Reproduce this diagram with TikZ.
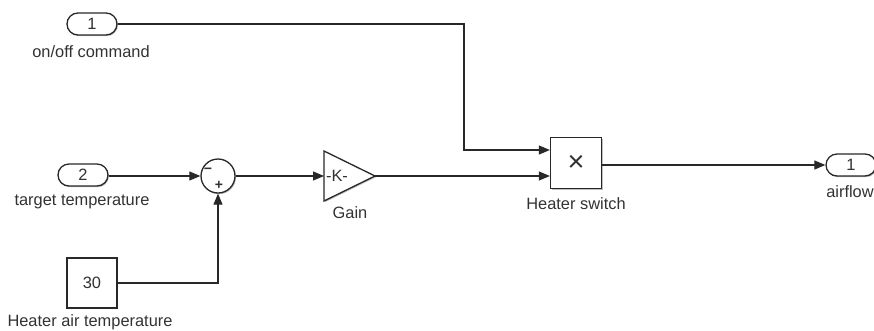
\documentclass[tikz,border=0pt]{standalone}
\usepackage{fontspec}
\setmainfont{Liberation Sans}
\usepackage{tikz}
\usetikzlibrary{shapes.misc, arrows.meta, shadows}
\definecolor{SLLine}{RGB}{40,40,40}
\definecolor{SLText}{RGB}{50,50,50}

\begin{document}
\begin{tikzpicture}[x=1pt, y=-1pt,
      port/.style={rounded rectangle, draw=SLLine, line width=1.3pt, fill=white,
                   minimum width=50pt, minimum height=22pt, inner sep=0pt,
                   font=\fontsize{16.4}{18}\selectfont, text=SLText,
                   drop shadow={shadow xshift=1pt, shadow yshift=-1.2pt,
                                opacity=0.25, fill=black}},
      blk/.style={rectangle, draw=SLLine, line width=1.3pt, fill=white,
                  inner sep=0pt, font=\fontsize{16.4}{18}\selectfont, text=SLText,
                  drop shadow={shadow xshift=1pt, shadow yshift=-1.2pt,
                               opacity=0.25, fill=black}},
      lbl/.style={font=\fontsize{16.4}{18}\selectfont, text=SLText, inner sep=0pt},
      arr/.style={-{Triangle[length=11pt, width=9pt]}, line width=1.1pt, SLLine},
      sgn/.style={font=\bfseries\fontsize{14}{14}\selectfont, text=SLText, inner sep=0pt}
    ]
    \useasboundingbox (0,0) rectangle (874,330);

    % Inports
    \node[port] (in1) at (92,24) {1};
    \node[lbl] at (91,52) {on/off command};
    \node[port] (in2) at (83,175) {2};
    \node[lbl] at (82,202) {target temperature};

    % Constant
    \node[blk, minimum width=50pt, minimum height=50pt] (const) at (92,283) {30};
    \node[lbl] at (90,322) {Heater air temperature};

    % Sum
    \node[circle, draw=SLLine, line width=1.3pt, fill=white, minimum size=34pt,
          inner sep=0pt,
          drop shadow={shadow xshift=1pt, shadow yshift=-1.2pt, opacity=0.25, fill=black}]
          (sum) at (218,176) {};
    \node[sgn] at (208,171) {−};
    \node[sgn] at (219,185) {+};

    % Gain
    \coordinate (gainin) at (324,176);
    \coordinate (gainout) at (375,176);
    \draw[line width=1.3pt, SLLine, fill=white,
          drop shadow={shadow xshift=1pt, shadow yshift=-1.2pt, opacity=0.25, fill=black}]
          (324,151) -- (gainout) -- (324,201) -- cycle;
    \node[lbl] (gain) at (337,176) {-K-};
    \node[lbl] at (350,213) {Gain};

    % Product
    \node[blk, minimum width=51pt, minimum height=51pt, font=\fontsize{29}{29}\selectfont]
          (sw) at (576,163) {×};
    \node[lbl] at (576,204) {Heater switch};
    \coordinate (swin1) at (sw.west |- 0,150);
    \coordinate (swin2) at (sw.west |- 0,176);
    \coordinate (swout) at (sw.east |- 0,165);

    % Outport
    \node[port] (out1) at (851,165) {1};
    \node[lbl] at (850,192) {airflow};

    % Signals
    \draw[arr] (in1.east) -| (464,150) -- (swin1);
    \draw[arr] (in2.east |- 0,176) -- (sum.west);
    \draw[arr] (const.east) -| (sum.south);
    \draw[arr] (sum.east) -- (gainin);
    \draw[arr] (gainout) -- (swin2);
    \draw[arr] (swout) -- (out1.west);
  \end{tikzpicture}
\end{document}
